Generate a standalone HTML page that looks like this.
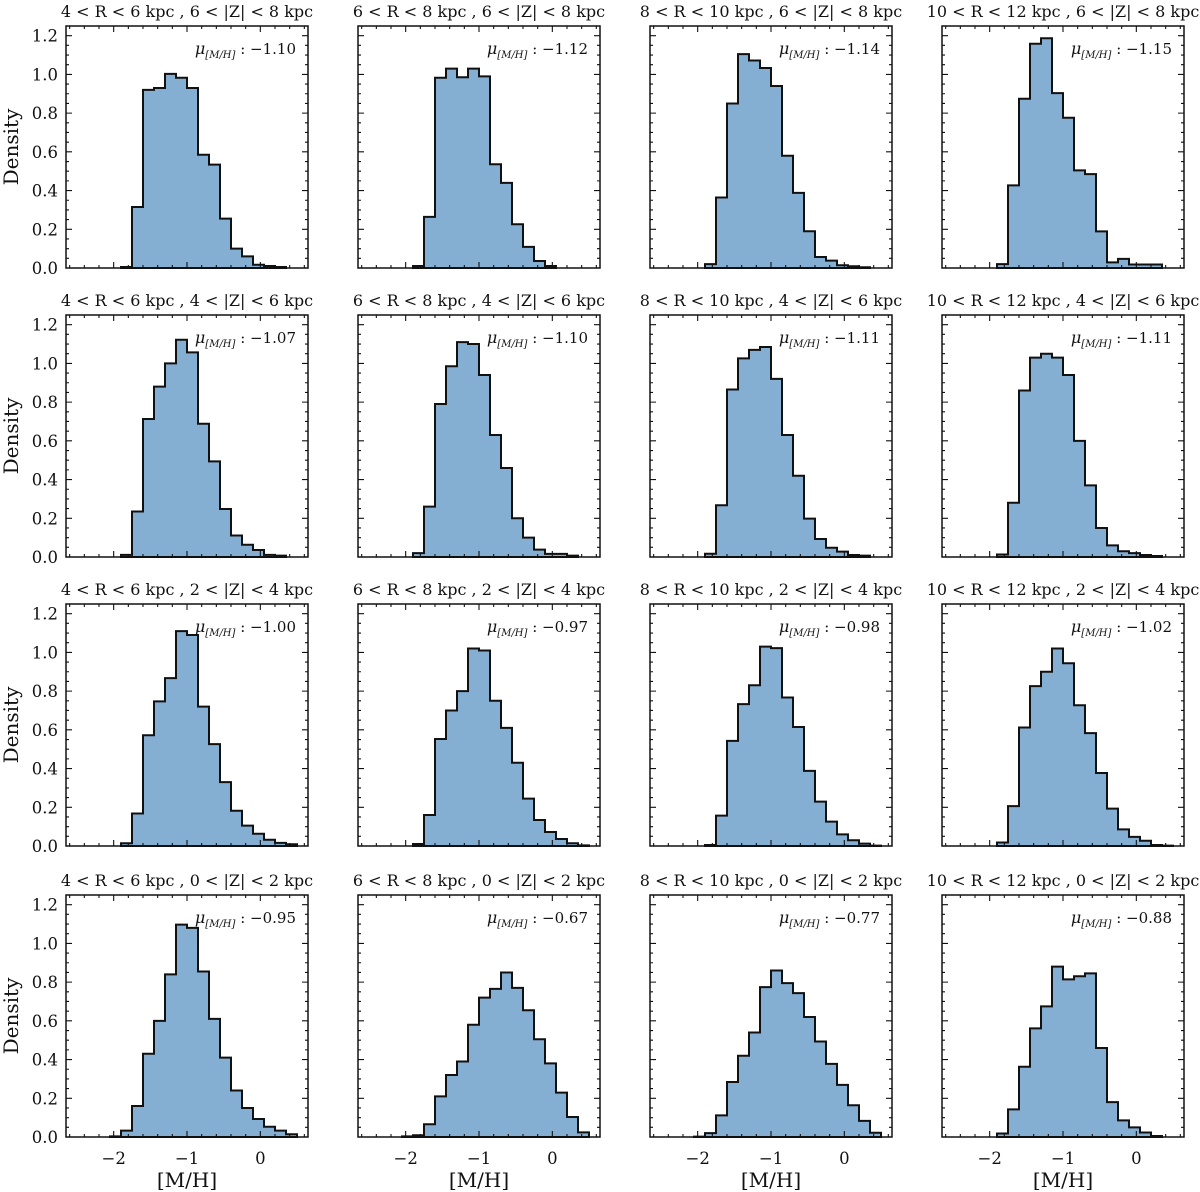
<!DOCTYPE html>
<html><head><meta charset="utf-8">
<style>
html,body{margin:0;padding:0;background:#fff;}
svg{display:block;}
text{font-family:"DejaVu Serif","Liberation Serif",serif;fill:#111;}
</style></head>
<body>
<svg id="fig" width="1200" height="1192" viewBox="0 0 1200 1192" xmlns="http://www.w3.org/2000/svg"></svg>
<script>
// ---- data ----
const rLabels = ["4 < R < 6 kpc","6 < R < 8 kpc","8 < R < 10 kpc","10 < R < 12 kpc"];
const zLabels = ["6 < |Z| < 8 kpc","4 < |Z| < 6 kpc","2 < |Z| < 4 kpc","0 < |Z| < 2 kpc"];
const meanLabels = [
  ["\u22121.10","\u22121.12","\u22121.14","\u22121.15"],
  ["\u22121.07","\u22121.10","\u22121.11","\u22121.11"],
  ["\u22121.00","\u22120.97","\u22120.98","\u22121.02"],
  ["\u22120.95","\u22120.67","\u22120.77","\u22120.88"]
];
const binWidth = 0.15;
const binStarts = [
  [-1.9,-1.9,-1.9,-1.9],
  [-1.9,-1.9,-1.9,-1.9],
  [-1.9,-1.9,-1.9,-1.9],
  [-2.05,-2.05,-2.05,-1.9]
];
const dens_r1c1 = [0.005,0.315,0.92,0.93,1.003,0.983,0.93,0.585,0.534,0.255,0.10,0.06,0.017,0.01,0.005];
const dens_r1c2 = [0.01,0.264,0.983,1.03,0.985,1.03,0.99,0.536,0.44,0.226,0.109,0.036,0.01];
const dens_r1c3 = [0.02,0.364,0.85,1.105,1.072,1.033,0.94,0.58,0.388,0.19,0.057,0.038,0.014,0.009,0.004];
const dens_r1c4 = [0.02,0.427,0.874,1.158,1.187,0.903,0.776,0.504,0.485,0.189,0.029,0.047,0.018,0.018,0.018];
const dens_r2c1 = [0.011,0.235,0.713,0.88,1.0,1.122,1.057,0.688,0.494,0.248,0.111,0.063,0.036,0.011,0.007];
const dens_r2c2 = [0.02,0.26,0.79,0.985,1.11,1.10,0.94,0.63,0.46,0.20,0.10,0.038,0.016,0.016,0.007];
const dens_r2c3 = [0.017,0.267,0.865,1.026,1.07,1.085,0.92,0.63,0.42,0.198,0.093,0.048,0.028,0.01,0.007];
const dens_r2c4 = [0.013,0.28,0.86,1.03,1.05,1.03,0.94,0.6,0.37,0.15,0.06,0.03,0.02,0.01,0.005];
const dens_r3c1 = [0.014,0.168,0.572,0.747,0.867,1.11,1.09,0.72,0.526,0.33,0.182,0.105,0.063,0.032,0.016,0.009];
const dens_r3c2 = [0.01,0.16,0.553,0.70,0.80,1.02,1.01,0.75,0.61,0.43,0.245,0.134,0.072,0.036,0.014,0.003];
const dens_r3c3 = [0.005,0.157,0.543,0.733,0.83,1.03,1.022,0.767,0.615,0.388,0.229,0.126,0.06,0.03,0.012,0.002];
const dens_r3c4 = [0.018,0.206,0.612,0.826,0.9,1.02,0.944,0.727,0.583,0.377,0.193,0.086,0.047,0.027,0.005,0.002];
const dens_r4c1 = [0.003,0.033,0.16,0.43,0.60,0.84,1.097,1.08,0.855,0.61,0.41,0.24,0.15,0.093,0.053,0.033,0.014];
const dens_r4c2 = [0.003,0.009,0.066,0.21,0.32,0.39,0.58,0.72,0.765,0.85,0.77,0.655,0.505,0.38,0.229,0.103,0.024];
const dens_r4c3 = [0.002,0.02,0.112,0.284,0.42,0.54,0.774,0.86,0.795,0.743,0.62,0.493,0.378,0.269,0.164,0.083,0.022];
const dens_r4c4 = [0.018,0.143,0.363,0.561,0.675,0.88,0.814,0.83,0.845,0.46,0.18,0.086,0.05,0.023,0.005];
const densities = [
  [dens_r1c1,dens_r1c2,dens_r1c3,dens_r1c4],
  [dens_r2c1,dens_r2c2,dens_r2c3,dens_r2c4],
  [dens_r3c1,dens_r3c2,dens_r3c3,dens_r3c4],
  [dens_r4c1,dens_r4c2,dens_r4c3,dens_r4c4]
];
const yTickValues = [0,0.2,0.4,0.6,0.8,1.0,1.2];
const yTickLabels = ["0.0","0.2","0.4","0.6","0.8","1.0","1.2"];
const xTickValues = [-2,-1,0];
const xTickLabels = ["\u22122","\u22121","0"];

// ---- layout ----
const NS = "http://www.w3.org/2000/svg";
const svg = document.getElementById("fig");
const colLeft = [66,358,650,942];
const rowBottom = [268,557,846,1137];
const W = 242, H = 242;
const XMIN = -2.65, XMAX = 0.65, YMIN = 0, YMAX = 1.25;

function el(tag, attrs, parent){
  const e = document.createElementNS(NS, tag);
  for (const k in attrs) e.setAttribute(k, attrs[k]);
  (parent||svg).appendChild(e);
  return e;
}

for (let r=0;r<4;r++){
  for (let c=0;c<4;c++){
    const L = colLeft[c], B = rowBottom[r], T = B - H;
    const xs = v => L + (v - XMIN)/(XMAX - XMIN)*W;
    const ys = v => B - (v - YMIN)/(YMAX - YMIN)*H;
    const g = el("g", {});
    
    

    const d = densities[r][c];
    const start = binStarts[r][c];
    let p = "M"+xs(start).toFixed(2)+","+ys(0).toFixed(2);
    for (let i=0;i<d.length;i++){
      const x0 = xs(start + i*binWidth), x1 = xs(start + (i+1)*binWidth), y = ys(d[i]);
      p += " L"+x0.toFixed(2)+","+y.toFixed(2)+" L"+x1.toFixed(2)+","+y.toFixed(2);
    }
    p += " L"+xs(start + d.length*binWidth).toFixed(2)+","+ys(0).toFixed(2)+" Z";
    const hist = el("path", {d:p, fill:"#85aed3", stroke:"#111", "stroke-width":"2", "stroke-linejoin":"miter"}, g);
    
    

    let tk = "";
    for (let v=0; v<=1.2501; v+=0.05){
      const major = Math.abs(v/0.2 - Math.round(v/0.2)) < 1e-6;
      const len = major ? 6 : 3; const y = ys(v).toFixed(2);
      tk += "M"+L+","+y+" h"+len+" M"+(L+W)+","+y+" h"+(-len)+" ";
    }
    for (let v=-2.6; v<=0.6001; v+=0.2){
      const major = Math.abs(v - Math.round(v)) < 1e-6;
      const len = major ? 6 : 3; const x = xs(v).toFixed(2);
      tk += "M"+x+","+B+" v"+(-len)+" M"+x+","+T+" v"+len+" ";
    }
    const ticks = el("path", {d:tk, stroke:"#111", "stroke-width":"1.1", fill:"none"}, g);
    
    

    const frame = el("rect", {x:L, y:T, width:W, height:H, fill:"none", stroke:"#111", "stroke-width":"1.5"}, g);
    
    

    const title = el("text", {x:L+W/2, y:T-9, "text-anchor":"middle", "font-size":"16"}, g);
    title.textContent = rLabels[c] + " , " + zLabels[r];
    
    

    const mu = el("text", {x:L+W-12, y:T+28, "text-anchor":"end", "font-size":"15"}, g);
    
    
    const t1 = el("tspan", {"font-style":"italic","font-size":"16"}, mu); t1.textContent = "\u03bc";
    const t2 = el("tspan", {"font-style":"italic","font-size":"10", dy:"4"}, mu); t2.textContent = "[M/H]";
    const t3 = el("tspan", {dy:"-4"}, mu); t3.textContent = " : " + meanLabels[r][c];

    if (c===0){
      for (let i=0;i<yTickValues.length;i++){
        const t = el("text", {x:L-8, y:ys(yTickValues[i])+6, "text-anchor":"end", "font-size":"16.5"}, g);
        t.textContent = yTickLabels[i];
        
        
      }
      const yl = el("text", {x:0, y:0, "text-anchor":"middle", "font-size":"20", transform:"translate(18,"+(T+H/2)+") rotate(-90)"}, g);
      yl.textContent = "Density";
      
      
    }
    if (r===3){
      for (let i=0;i<xTickValues.length;i++){
        const t = el("text", {x:xs(xTickValues[i]), y:B+27, "text-anchor":"middle", "font-size":"16.5"}, g);
        t.textContent = xTickLabels[i];
        
        
      }
      const xl = el("text", {x:L+W/2, y:B+50, "text-anchor":"middle", "font-size":"20"}, g);
      xl.textContent = "[M/H]";
      
      
    }
  }
}
</script>
</body></html>
